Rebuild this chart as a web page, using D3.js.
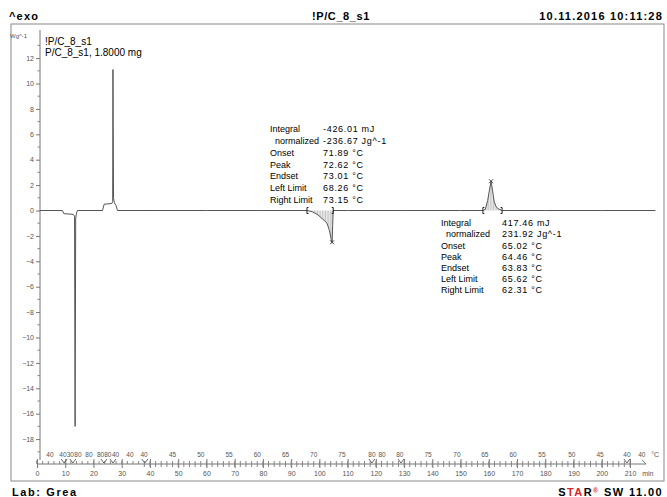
<!DOCTYPE html>
<html>
<head>
<meta charset="utf-8">
<script src="https://cdn.jsdelivr.net/npm/d3@7"></script>
<style>
body { margin: 0; background: #fff; }
text { font-family: "Liberation Sans", Arial, sans-serif; }
</style>
</head>
<body>
<svg id="chart" width="667" height="497"></svg>
<script>
// DSC curve: time (min) and heat flow (W/g)
const times    = [1, 9.0, 9.5, 12.8, 13.3, 13.5, 13.7, 14.0, 14.3,
                  23.2, 23.8, 26.5, 26.8, 26.9, 27.1, 27.4, 28.0, 28.5,
                  40, 60, 80,
                  95.6, 97.5, 99.5, 101.3, 102.7, 103.6, 104.2, 104.5, 104.7, 104.9,
                  110, 130, 150,
                  157.9, 158.8, 159.6, 160.3, 160.8, 161.3, 161.9, 162.5, 163.2, 164.7,
                  180, 200, 219];
const heatFlow = [0, 0, -0.25, -0.3, -0.45, -17.0, -0.6, -0.2, 0,
                  0, 0.5, 0.55, 0.7, 11.1, 1.0, 0.6, 0.4, 0,
                  0, 0, 0,
                  0, -0.1, -0.35, -0.7, -1.0, -1.6, -2.3, -2.5, -1.2, 0,
                  0, 0, 0,
                  0, 0.1, 0.8, 1.7, 2.3, 1.6, 0.7, 0.35, 0.15, 0,
                  0, 0, 0];

// integration ranges (left limit, right limit, peak time)
const peakLeft  = [95.6, 157.9];
const peakRight = [104.9, 164.7];
const peakTime  = [104.5, 160.8];

const resultLabels = ["Integral", "  normalized", "Onset", "Peak", "Endset", "Left Limit", "Right Limit"];
const results1 = ["-426.01 mJ", "-236.67 Jg^-1", "71.89 °C", "72.62 °C", "73.01 °C", "68.26 °C", "73.15 °C"];
const results2 = ["417.46 mJ", "231.92 Jg^-1", "65.02 °C", "64.46 °C", "63.83 °C", "65.62 °C", "62.31 °C"];

// temperature program labels along the time axis
const tempTimes  = [4.6, 9.2, 11.8, 14.5, 18.4, 22.5, 25.1, 27.8, 32.9, 37.9,
                    48, 58, 68, 78, 88, 98, 108, 118.6, 122.2, 128.5,
                    138.5, 148.7, 158.6, 168.6, 178.8, 189.4, 199.4, 208.9, 214.2];
const tempLabels = ["40", "40", "30", "80", "80", "80", "80", "40", "40", "40",
                    "45", "50", "55", "60", "65", "70", "75", "80", "80", "80",
                    "75", "70", "65", "60", "55", "50", "45", "40", "40"];
const segmentTimes = [9.6, 12.7, 23.7, 26.9, 38.2, 118.6, 128.9, 208.9];

const timeTicks = d3.range(0, 211, 10);
const flowTicks = d3.range(-18, 13, 2);

const svg = d3.select("#chart");

const x = d3.scaleLinear().domain([0, 210]).range([37, 630]);
const y = d3.scaleLinear().domain([0, 12]).range([210.5, 58.1]);

const tickGrey = "#555";

// frame
svg.append("rect")
    .attr("x", 11).attr("y", 24)
    .attr("width", 653).attr("height", 457)
    .attr("fill", "none").attr("stroke", "#888").attr("stroke-width", 1);

// header and footer
svg.append("text").attr("x", 9).attr("y", 20)
    .attr("font-size", 11).attr("font-weight", "bold").attr("letter-spacing", 1.2)
    .text("^exo");
svg.append("text").attr("x", 312).attr("y", 20)
    .attr("font-size", 11).attr("font-weight", "bold").attr("letter-spacing", 0.6)
    .text("!P/C_8_s1");
svg.append("text").attr("x", 663).attr("y", 20).attr("text-anchor", "end")
    .attr("font-size", 11).attr("font-weight", "bold").attr("letter-spacing", 1.2)
    .text("10.11.2016 10:11:28");
svg.append("text").attr("x", 12).attr("y", 496)
    .attr("font-size", 11).attr("font-weight", "bold").attr("letter-spacing", 1.6)
    .text("Lab: Grea");

let star = svg.append("text").attr("x", 663).attr("y", 496).attr("text-anchor", "end")
    .attr("font-size", 11).attr("font-weight", "bold").attr("letter-spacing", 1.4);
star.append("tspan").text("S");
star.append("tspan").attr("fill", "#d9262b").text("TA");
star.append("tspan").text("R");
star.append("tspan").attr("fill", "#d9262b").attr("font-size", 7).attr("dy", -3).text("®");
star.append("tspan").attr("dy", 3).text(" SW 11.00");

// y axis
let yAxis = svg.append("g")
    .attr("transform", "translate(40,0)")
    .call(d3.axisLeft(y).tickValues(flowTicks).tickSize(4).tickPadding(2));
yAxis.select(".domain").remove();
yAxis.selectAll("line").attr("stroke", "#777");
yAxis.selectAll("text").attr("font-size", 7).attr("fill", tickGrey).attr("font-family", "Liberation Sans");

svg.append("g").selectAll("line")
    .data(d3.range(-19, 14, 2))
    .join("line")
    .attr("x1", 37.5).attr("x2", 40)
    .attr("y1", d => y(d)).attr("y2", d => y(d))
    .attr("stroke", "#888");

svg.append("line")
    .attr("x1", 40).attr("x2", 40).attr("y1", 30).attr("y2", 460)
    .attr("stroke", "#777");

svg.append("text").attr("x", 10).attr("y", 38)
    .attr("font-size", 6).attr("fill", tickGrey).text("Wg^-1");

// legend
svg.append("text").attr("x", 45).attr("y", 45).attr("font-size", 10).text("!P/C_8_s1");
svg.append("text").attr("x", 45).attr("y", 56).attr("font-size", 10).text("P/C_8_s1, 1.8000 mg");

// time axis
const axisY = 464;
let xAxis = svg.append("g")
    .attr("transform", "translate(0," + axisY + ")")
    .call(d3.axisBottom(x).tickValues(timeTicks).tickSize(4).tickPadding(3));
xAxis.select(".domain").remove();
xAxis.selectAll("line").attr("stroke", "#777").attr("y1", -5);
xAxis.selectAll("text").attr("font-size", 7).attr("fill", tickGrey).attr("font-family", "Liberation Sans");

svg.append("g").selectAll("line")
    .data(d3.range(0, 211, 2))
    .join("line")
    .attr("x1", d => x(d)).attr("x2", d => x(d))
    .attr("y1", axisY - 3)
    .attr("y2", d => d >= 38 ? axisY + 3 : axisY)
    .attr("stroke", "#888");

svg.append("path")
    .attr("d", "M" + x(0) + "," + axisY + "H" + (x(215) + 2) + "M" + (x(215) - 2) + "," + (axisY - 4) + "L" + (x(215) + 2) + "," + axisY)
    .attr("fill", "none").attr("stroke", "#777");
svg.append("line")
    .attr("x1", x(0)).attr("x2", x(0)).attr("y1", axisY - 4).attr("y2", axisY)
    .attr("stroke", "#777");

svg.append("g").selectAll("path")
    .data(segmentTimes)
    .join("path")
    .attr("d", d => "M" + (x(d) - 3) + "," + (axisY - 5) + "L" + x(d) + "," + (axisY - 1) + "L" + (x(d) + 3) + "," + (axisY - 5))
    .attr("fill", "none").attr("stroke", "#666");

svg.append("g").selectAll("text")
    .data(tempTimes)
    .join("text")
    .attr("x", d => x(d)).attr("y", axisY - 7)
    .attr("text-anchor", "middle")
    .attr("font-size", 6.5).attr("fill", tickGrey)
    .text((d, i) => tempLabels[i]);

svg.append("text").attr("x", x(217.5)).attr("y", axisY - 7)
    .attr("font-size", 7).attr("fill", tickGrey).text("°C");
svg.append("text").attr("x", x(214.3)).attr("y", axisY + 12)
    .attr("font-size", 7).attr("fill", tickGrey).text("min");

// hatching inside the integration ranges
const points = times.map((t, i) => [t, heatFlow[i]]);
const bisect = d3.bisector(d => d[0]).left;
function flowAt(t) {
    let i = bisect(points, t);
    if (i <= 0) return points[0][1];
    if (i >= points.length) return points[points.length - 1][1];
    let a = points[i - 1], b = points[i];
    return a[1] + (b[1] - a[1]) * (t - a[0]) / (b[0] - a[0]);
}

peakLeft.forEach(function(left, k) {
    let steps = d3.range(x(left) + 1, x(peakRight[k]), 1.6);
    svg.append("g").selectAll("line")
        .data(steps)
        .join("line")
        .attr("x1", d => d).attr("x2", d => d)
        .attr("y1", y(0))
        .attr("y2", d => y(flowAt(x.invert(d))))
        .attr("stroke", "#999").attr("stroke-width", 0.6);
});

// curve
const line = d3.line().x(d => x(d[0])).y(d => y(d[1]));
svg.append("path")
    .datum(points)
    .attr("d", line)
    .attr("fill", "none")
    .attr("stroke", "#555")
    .attr("stroke-width", 1);

// limit brackets and peak crosses
peakLeft.forEach(function(left, k) {
    [left, peakRight[k]].forEach(function(t, j) {
        let px = x(t), py = y(0), dir = j === 0 ? 1 : -1;
        svg.append("path")
            .attr("d", "M" + (px + dir * 1.5) + "," + (py - 3) + "H" + px + "V" + (py + 3) + "H" + (px + dir * 1.5))
            .attr("fill", "none").attr("stroke", "#222");
    });
    let cx = x(peakTime[k]), cy = y(flowAt(peakTime[k]));
    svg.append("path")
        .attr("d", "M" + (cx - 2) + "," + (cy - 2) + "L" + (cx + 2) + "," + (cy + 2) + "M" + (cx - 2) + "," + (cy + 2) + "L" + (cx + 2) + "," + (cy - 2))
        .attr("stroke", "#222").attr("stroke-width", 0.8);
});

// result blocks
function resultBlock(values, lx, vx, top, step) {
    let g = svg.append("g").attr("font-size", 9);
    g.selectAll("text.lab")
        .data(resultLabels)
        .join("text")
        .attr("class", "lab")
        .attr("x", (d, i) => i === 1 ? lx + 5 : lx)
        .attr("y", (d, i) => top + i * step)
        .attr("dy", "0.35em")
        .text(d => d.trim());
    g.selectAll("text.val")
        .data(values)
        .join("text")
        .attr("class", "val")
        .attr("x", vx)
        .attr("y", (d, i) => top + i * step)
        .attr("dy", "0.35em")
        .attr("letter-spacing", 0.7)
        .text(d => d);
}
resultBlock(results1, 270, 323, 129, 11.8);
resultBlock(results2, 441, 502, 223, 11.2);
</script>
</body>
</html>
